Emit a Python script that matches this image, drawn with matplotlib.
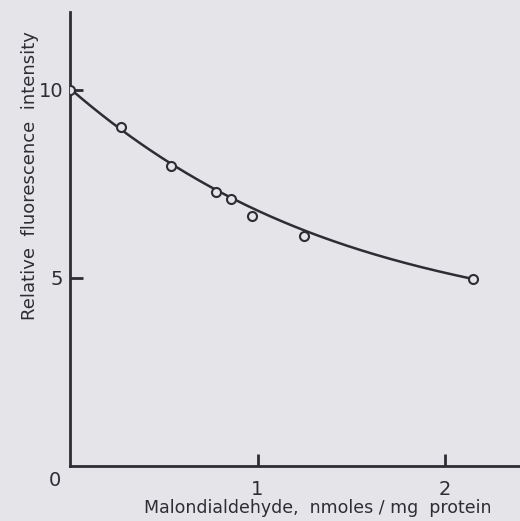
import numpy as np
from matplotlib import pyplot as plt

# measured points (open circles)
mda = [0.0, 0.27, 0.54, 0.78, 0.86, 0.97, 1.25, 2.15]
fluor = [10.0, 9.0, 7.98, 7.29, 7.1, 6.65, 6.12, 4.97]

# smooth curve as drawn in the figure
curve_x = [0.0, 0.267, 0.544, 0.784, 0.965, 1.173, 1.531, 1.883, 2.133]
curve_y = [10.0, 9.02, 8.03, 7.37, 6.76, 6.41, 5.82, 5.29, 4.97]

x_ticks = [1, 2]
y_ticks = [5, 10]

bg = '#e5e4e9'
ink = '#2e2d33'

fig = plt.figure(figsize=(5.2, 5.21), dpi=100, facecolor=bg)
ax = fig.add_axes([70 / 520, 55 / 521, 450 / 520, 454 / 521])
ax.set_facecolor(bg)

# smooth the hand-drawn line a bit
xs = np.linspace(curve_x[0], curve_x[-1], 200)
coef = np.polyfit(curve_x, curve_y, 3)
ax.plot(xs, np.polyval(coef, xs), color=ink, lw=1.8, zorder=2)
ax.plot(mda, fluor, 'o', ms=6.5, mfc=bg, mec=ink, mew=1.5, zorder=3)

ax.set_xlim(0, 2.4)
ax.set_ylim(0, 12.07)
for s in ['top', 'right']:
    ax.spines[s].set_visible(False)
for s in ['left', 'bottom']:
    ax.spines[s].set_color(ink)
    ax.spines[s].set_linewidth(2)

ax.set_xticks(x_ticks)
ax.set_yticks(y_ticks)
ax.tick_params(direction='in', length=9, width=2, color=ink,
               labelsize=14, labelcolor=ink)
ax.tick_params(axis='x', pad=10)
ax.tick_params(axis='y', pad=5)

fig.text(55 / 520, 1 - 481 / 521, '0', fontsize=14, color=ink,
         ha='center', va='center')
fig.text(30 / 520, 1 - 176 / 521, 'Relative  fluorescence  intensity',
         rotation=90, fontsize=13, color=ink, ha='center', va='center')
fig.text(318 / 520, 1 - 508 / 521, 'Malondialdehyde,  nmoles / mg  protein',
         fontsize=12.5, color=ink, ha='center', va='center')

fig.savefig('out.png', facecolor=bg)
